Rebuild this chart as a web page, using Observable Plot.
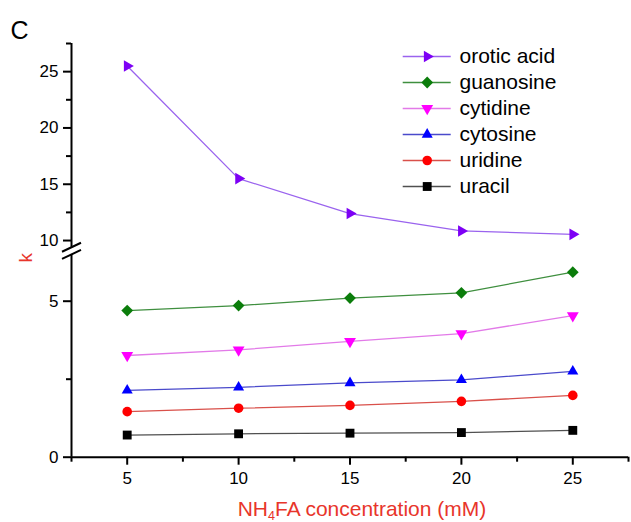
<!DOCTYPE html>
<html>
<head>
<meta charset="utf-8">
<script src="https://cdn.jsdelivr.net/npm/d3@7"></script>
<script src="https://cdn.jsdelivr.net/npm/@observablehq/plot@0.6"></script>
<style>
  body { margin: 0; background: #fff; font-family: "Liberation Sans", Arial, sans-serif; }
  #wrap { position: relative; width: 631px; height: 522px; }
  #wrap > svg { position: absolute; left: 0; top: 0; }
  #panel { position: absolute; left: 10.5px; top: 18px; font-size: 25px; line-height: 24px; color: #000; }
  #xtitle { position: absolute; left: 112px; width: 500px; top: 499px; text-align: center;
            font-size: 21px; line-height: 20px; color: #e8352b; white-space: nowrap; }
  #xtitle sub { font-size: 60%; vertical-align: -0.3em; line-height: 0; }
  #legend { position: absolute; left: 400px; top: 43.7px; }
</style>
</head>
<body>
<div id="wrap">
  <div id="panel">C</div>
  <div id="xtitle">NH<sub>4</sub>FA concentration (mM)</div>
  <div id="legend"></div>
</div>
<script>
// ---- data ----
const concentrations = [5, 10, 15, 20, 25];
const seriesNames = ["orotic acid", "guanosine", "cytidine", "cytosine", "uridine", "uracil"];
const oroticAcid = [25.5, 15.5, 12.4, 10.85, 10.55];
const guanosine  = [4.70, 4.86, 5.10, 5.27, 5.93];
const cytidine   = [3.26, 3.44, 3.71, 3.96, 4.54];
const cytosine   = [2.14, 2.24, 2.38, 2.48, 2.75];
const uridine    = [1.46, 1.57, 1.66, 1.79, 1.98];
const uracil     = [0.71, 0.75, 0.77, 0.79, 0.86];

const xMajorTicks = [5, 10, 15, 20, 25];
const xMinorTicks = [2.5, 7.5, 12.5, 17.5, 22.5, 27.5];
const yLowerMajorTicks = [0, 5];
const yLowerMinorTicks = [2.5];
const yUpperMajorTicks = [10, 15, 20, 25];
const yUpperMinorTicks = [12.5, 17.5, 22.5, 27.5];
const xDomain = [2.5, 27.5];
const yLowerDomain = [0, 6.5];
const yUpperDomain = [9.4, 27.5];
const upperSeries = ["orotic acid"];
const yLabel = "k";

// ---- styles ----
const seriesValues = [oroticAcid, guanosine, cytidine, cytosine, uridine, uracil];
const markColors = ["#7d00f5", "#0b7d0b", "#ff00ff", "#0000ff", "#ff0000", "#000000"];
const lineColors = ["#9a63ee", "#3f8f3f", "#e27ae8", "#4a4acb", "#d9504a", "#505050"];
const symbols = ["triangle", "diamond2", "triangle", "triangle", "circle", "square"];
const radii = [4.3, 5.3, 4.4, 4.1, 4.8, 5.0];
const rotations = [90, 0, 180, 0, 0, 0];
const red = "#e8352b";

const series = seriesNames.map((name, i) => ({
  name, values: seriesValues[i], color: markColors[i], line: lineColors[i],
  symbol: symbols[i], r: radii[i], rotate: rotations[i],
  rows: seriesValues[i].map((v, j) => ({name, x: concentrations[j], k: v}))
}));

const breakSymbol = {
  draw(ctx) {
    ctx.moveTo(-9.5, 0.9); ctx.lineTo(9.5, -8.1);
    ctx.moveTo(-9.5, 8.1); ctx.lineTo(9.5, -0.9);
  }
};

const fontFamily = "'Liberation Sans', Arial, sans-serif";
const tickFont = 17;
const W = 631, H = 522;
const common = {
  width: W, height: H, marginLeft: 71, marginRight: 3,
  style: {fontFamily, fontSize: "16px", color: "#000", background: "transparent"}
};

const seriesMarks = list => [
  ...list.map(s => Plot.line(s.rows, {x: "x", y: "k", stroke: s.line, strokeWidth: 1.3})),
  ...list.map(s => Plot.dot(s.rows, {x: "x", y: "k", symbol: s.symbol, r: s.r, rotate: s.rotate, fill: s.color, stroke: "none"}))
];

// upper panel (10 – 27.5)
const upper = Plot.plot({
  ...common,
  marginTop: 43, marginBottom: H - 246.8,
  x: {domain: xDomain, axis: null},
  y: {domain: yUpperDomain, axis: null},
  marks: [
    Plot.ruleX([yUpperDomain], {x: () => xDomain[0], y1: d => d[0], y2: d => d[1], stroke: "#000", strokeWidth: 2}),
    Plot.axisY(yUpperMajorTicks, {tickSize: 8, tickPadding: 5, strokeWidth: 2, fontSize: tickFont, label: null}),
    Plot.axisY(yUpperMinorTicks, {tickSize: 5, tickFormat: () => "", strokeWidth: 2, label: null}),
    ...seriesMarks(series.filter(s => upperSeries.includes(s.name)))
  ]
});

// lower panel (0 – 6.5)
const lower = Plot.plot({
  ...common,
  marginTop: 253.9, marginBottom: H - 456.7,
  x: {domain: xDomain, label: null},
  y: {domain: yLowerDomain, label: null},
  marks: [
    Plot.ruleX([yLowerDomain], {x: () => xDomain[0], y1: d => d[0], y2: d => d[1], stroke: "#000", strokeWidth: 2}),
    Plot.ruleY([yLowerDomain[0]], {x1: () => xDomain[0], x2: () => xDomain[1], y: d => d, stroke: "#000", strokeWidth: 2}),
    Plot.dot([0], {frameAnchor: "top-left", dy: -3.55, symbol: breakSymbol, r: 5, stroke: "#000", strokeWidth: 2, fill: "none"}),
    Plot.axisX(xMajorTicks, {tickSize: 8, tickPadding: 7, strokeWidth: 2, fontSize: tickFont, label: null}),
    Plot.axisX(xMinorTicks, {tickSize: 5, tickFormat: () => "", strokeWidth: 2, label: null}),
    Plot.axisY(yLowerMajorTicks, {tickSize: 8, tickPadding: 5, strokeWidth: 2, fontSize: tickFont, label: null}),
    Plot.axisY(yLowerMinorTicks, {tickSize: 5, tickFormat: () => "", strokeWidth: 2, label: null}),
    Plot.text([yLabel], {text: d => d, frameAnchor: "top-left", dx: -53, dy: 8.1, rotate: -90, fill: red, fontSize: 19}),
    ...seriesMarks(series.filter(s => !upperSeries.includes(s.name)))
  ]
});

const wrap = document.getElementById("wrap");
wrap.prepend(upper);
wrap.prepend(lower);

const legend = Plot.plot({
  width: 230, height: 160, margin: 0,
  style: {fontFamily, fontSize: "21px", color: "#000", background: "transparent"},
  x: {domain: [0, 1], range: [2.7, 50.7], axis: null},
  y: {type: "point", domain: seriesNames, range: [12, 142], padding: 0, axis: null},
  marks: [
    ...series.map(s => Plot.ruleY([s.name], {x1: () => 0, x2: () => 1, y: d => d, stroke: s.line, strokeWidth: 1.3})),
    ...series.map(s => Plot.dot([s.name], {x: () => 0.5, y: d => d, symbol: s.symbol, r: s.r, rotate: s.rotate, fill: s.color, stroke: "none"})),
    Plot.text(seriesNames, {x: () => 1, y: d => d, text: d => d, dx: 8.3, textAnchor: "start", fontSize: 21, fill: "#000"})
  ]
});
document.getElementById("legend").append(legend);
</script>
</body>
</html>
